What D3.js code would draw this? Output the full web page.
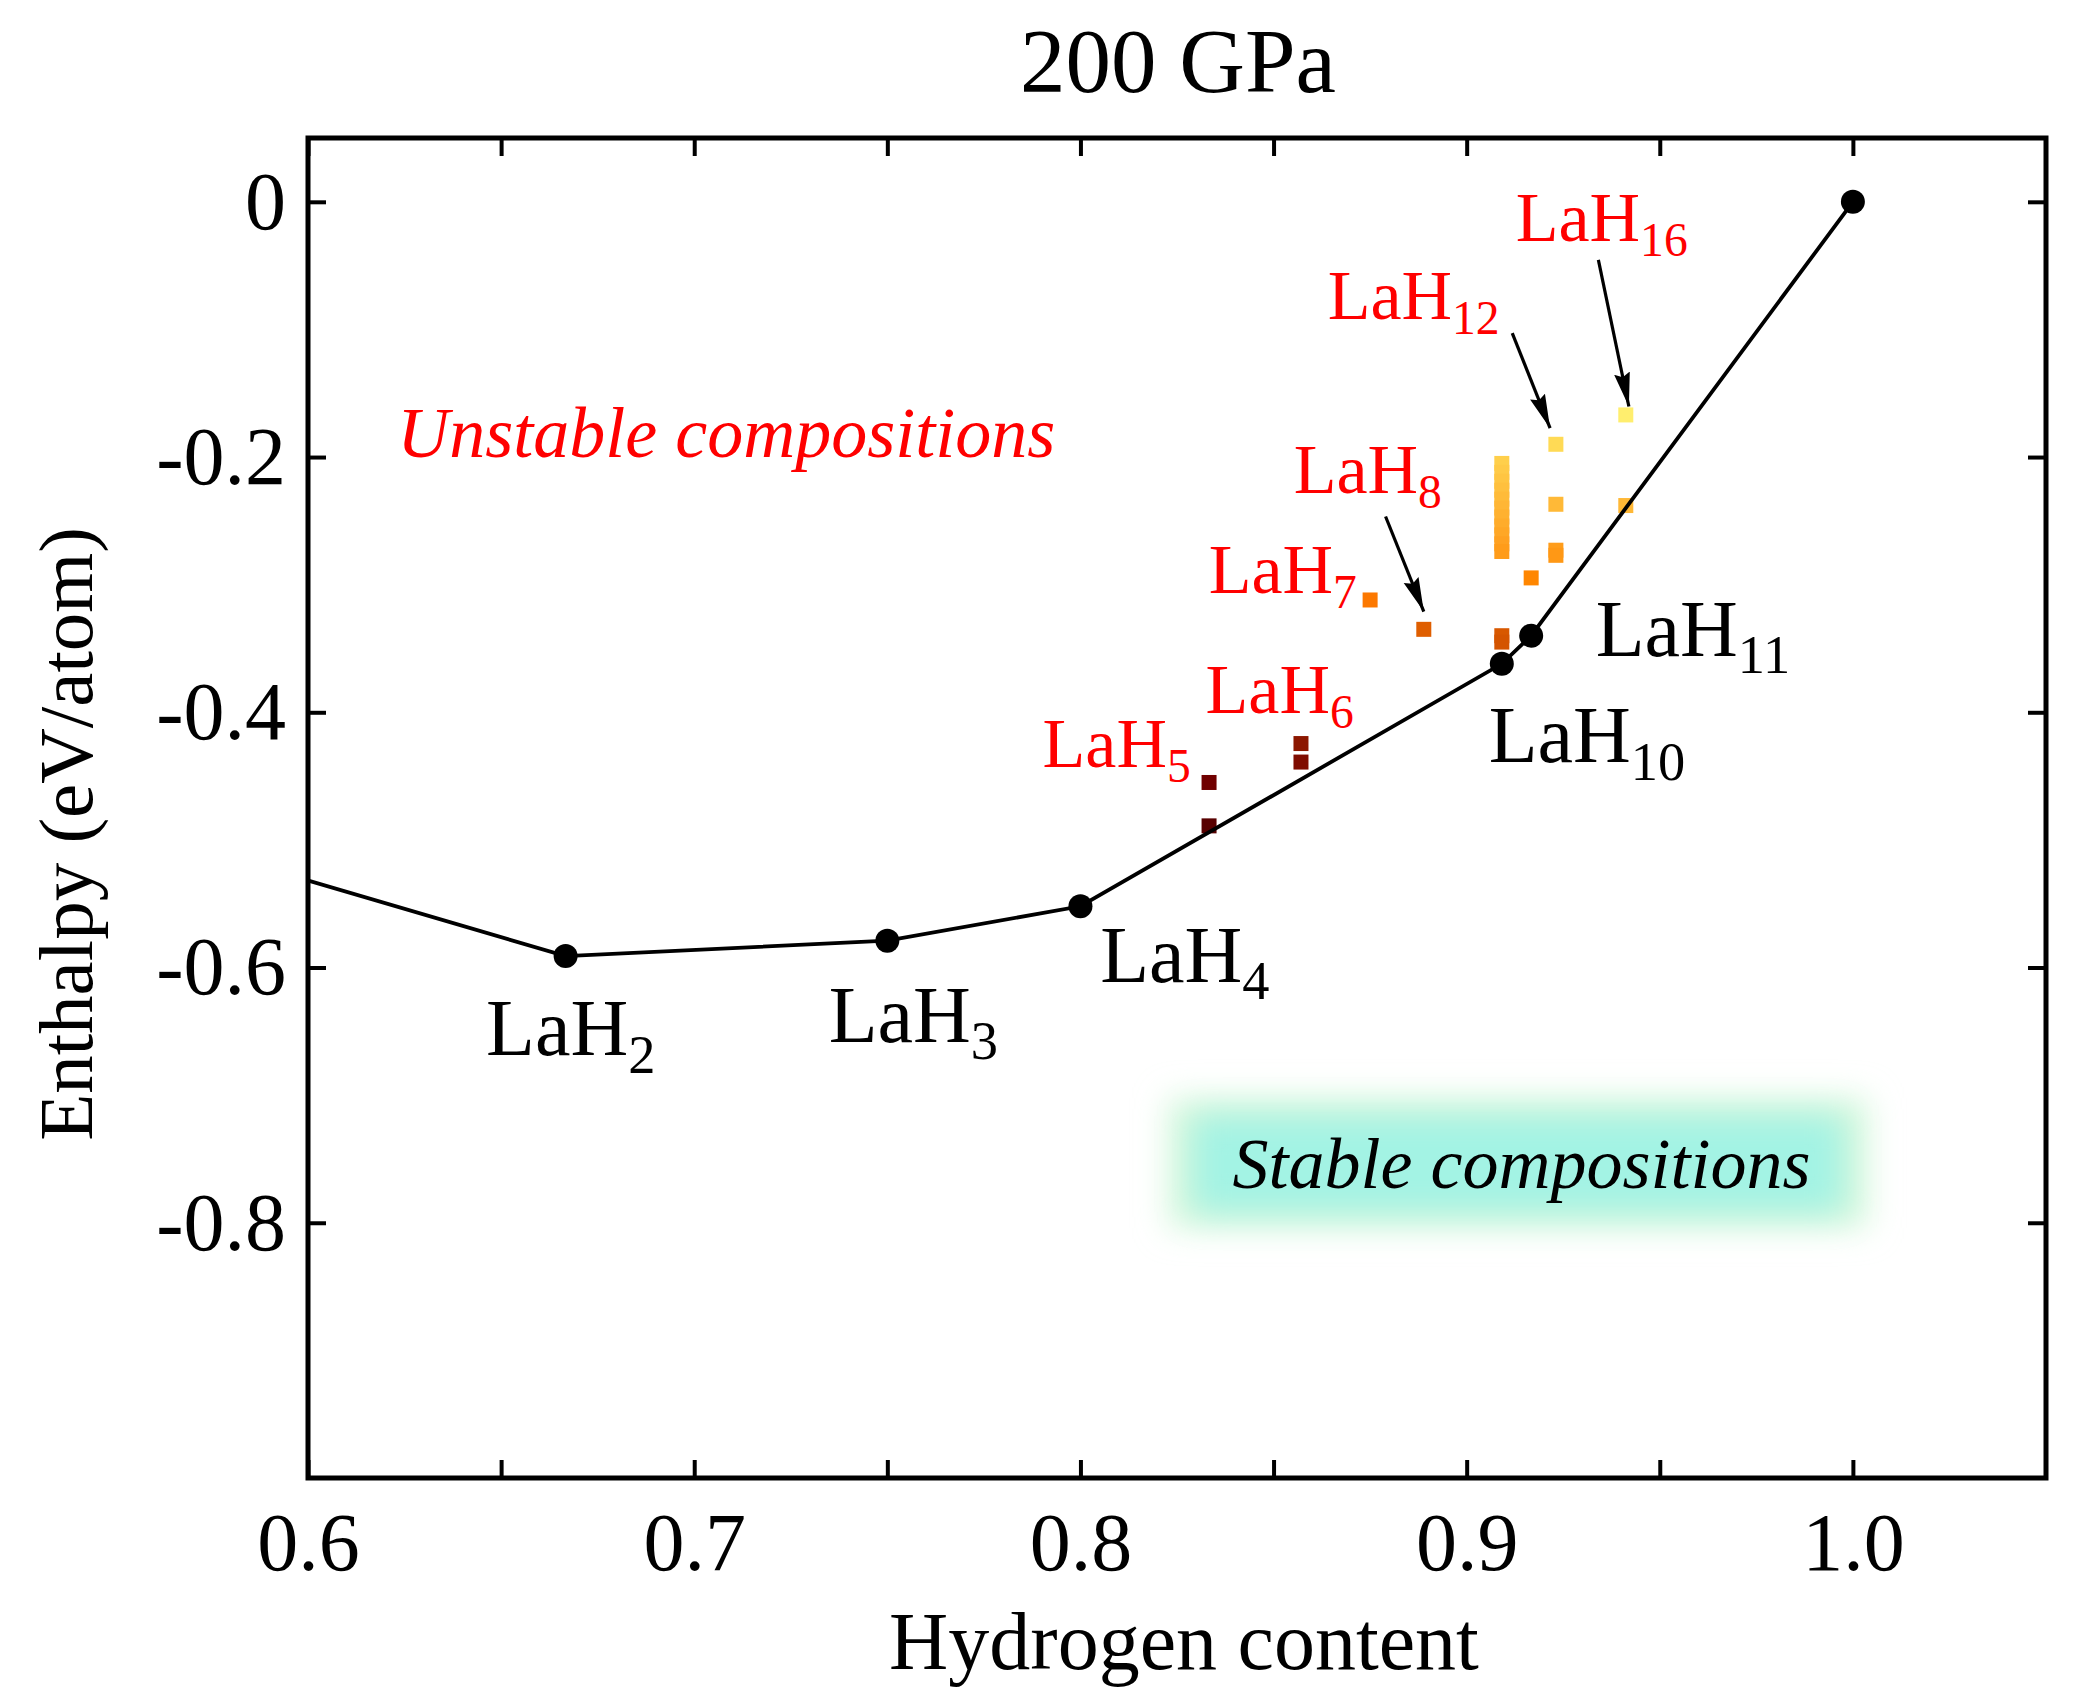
<!DOCTYPE html>
<html>
<head>
<meta charset="utf-8">
<script src="https://cdn.jsdelivr.net/npm/d3@7"></script>
<style>
  body { margin: 0; background: #fff; }
  text { font-family: "Liberation Serif", "Times New Roman", serif; }
</style>
</head>
<body>
<div id="chart"></div>
<script>
const width = 2096, height = 1703;
const margin = {left: 308, right: 50, top: 138, bottom: 225};

// convex hull: stable phases (H fraction, enthalpy eV/atom)
const hullX = [0, 0.6667, 0.75, 0.8, 0.9091, 0.9167, 1.0];
const hullY = [0, -0.591, -0.579, -0.552, -0.362, -0.340, 0];

// unstable structures above the hull
const unstableX = [0.8333, 0.8333, 0.8571, 0.8571, 0.875, 0.8889,
  0.9091, 0.9091, 0.9091, 0.9091, 0.9091, 0.9091, 0.9091, 0.9091, 0.9091, 0.9091, 0.9091,
  0.9091, 0.9091, 0.9167, 0.9231, 0.9231, 0.9231, 0.9231, 0.9412, 0.9412];
const unstableY = [-0.455, -0.489, -0.4245, -0.439, -0.312, -0.335,
  -0.205, -0.212, -0.219, -0.226, -0.233, -0.240, -0.247, -0.254, -0.261, -0.268, -0.274,
  -0.340, -0.345, -0.2947, -0.190, -0.237, -0.273, -0.277, -0.167, -0.238];

// axis ticks
const xTicks = [0.6, 0.65, 0.7, 0.75, 0.8, 0.85, 0.9, 0.95, 1.0];
const xTickLabels = ["0.6", "", "0.7", "", "0.8", "", "0.9", "", "1.0"];
const yTicks = [0, -0.2, -0.4, -0.6, -0.8];
const yTickLabels = ["0", "-0.2", "-0.4", "-0.6", "-0.8"];

// phase labels (anchor in data units)
const stableNames = ["LaH", "LaH", "LaH", "LaH", "LaH"];
const stableSubs = ["2", "3", "4", "10", "11"];
const stableLabelX = [0.6461, 0.7348, 0.8051, 0.9057, 0.9334];
const stableLabelY = [-0.6685, -0.6581, -0.6110, -0.4389, -0.3558];

const unstableNames = ["LaH", "LaH", "LaH", "LaH", "LaH", "LaH"];
const unstableSubs = ["5", "6", "7", "8", "12", "16"];
const unstableLabelX = [0.7902, 0.8324, 0.8332, 0.8552, 0.8640, 0.9127];
const unstableLabelY = [-0.4428, -0.4005, -0.3064, -0.2281, -0.0917, -0.0306];

// arrows pointing at LaH8, LaH12, LaH16
const arrowFrom = [[0.8790, -0.2466], [0.9118, -0.1029], [0.9341, -0.0455]];
const arrowTo = [[0.8889, -0.3211], [0.9216, -0.1774], [0.9420, -0.1604]];

const plotW = width - margin.left - margin.right;
const plotH = height - margin.top - margin.bottom;

const svg = d3.select("#chart").append("svg")
  .attr("width", width)
  .attr("height", height);

const defs = svg.append("defs");
defs.append("clipPath").attr("id", "plot-clip")
  .append("rect").attr("width", plotW).attr("height", plotH);
defs.append("filter").attr("id", "glow")
  .attr("x", "-30%").attr("y", "-100%").attr("width", "160%").attr("height", "300%")
  .append("feGaussianBlur").attr("stdDeviation", 16);
defs.append("marker").attr("id", "arrow")
  .attr("markerUnits", "userSpaceOnUse")
  .attr("markerWidth", 36).attr("markerHeight", 20)
  .attr("refX", 34).attr("refY", 10)
  .attr("orient", "auto")
  .append("path").attr("d", "M0,2 L34,10 L0,18 L4,10 Z").attr("fill", "#000");

const g = svg.append("g")
  .attr("transform", `translate(${margin.left}, ${margin.top})`);

const x = d3.scaleLinear().domain([0.6, 1.05]).range([0, plotW]);
const y = d3.scaleLinear().domain([-1.0, 0.05]).range([plotH, 0]);

// colour of unstable squares follows their enthalpy (hot map)
const heat = d3.scaleLinear()
  .domain([-0.50, -0.455, -0.42, -0.34, -0.31, -0.29, -0.27, -0.235, -0.19, -0.165])
  .range(["#500000", "#700000", "#901a00", "#d85800", "#ff7a00", "#ff8a00", "#ffa020", "#ffba38", "#ffda55", "#fff070"])
  .clamp(true);

// stable region glow box (soft green halo + cyan core)
g.append("rect")
  .attr("x", 860).attr("y", 960)
  .attr("width", 700).attr("height", 130)
  .attr("fill", "#d6f7dc")
  .attr("filter", "url(#glow)");
g.append("rect")
  .attr("x", 885).attr("y", 978)
  .attr("width", 650).attr("height", 96)
  .attr("fill", "#a3f3e4")
  .attr("filter", "url(#glow)");

// axes, ticks pointing inward
const tickFont = 82;
g.append("g")
  .attr("transform", `translate(0, ${plotH})`)
  .call(d3.axisBottom(x).tickValues(xTicks).tickSize(-18).tickPadding(34)
    .tickFormat((d, i) => xTickLabels[i]));
g.append("g")
  .call(d3.axisTop(x).tickValues(xTicks).tickSize(-18).tickFormat(""));
g.append("g")
  .call(d3.axisLeft(y).tickValues(yTicks).tickSize(-18).tickPadding(22)
    .tickFormat((d, i) => yTickLabels[i]));
g.append("g")
  .attr("transform", `translate(${plotW}, 0)`)
  .call(d3.axisRight(y).tickValues(yTicks).tickSize(-18).tickFormat(""));

g.selectAll(".domain").remove();
g.selectAll(".tick line").attr("stroke", "#000").attr("stroke-width", 4);
g.selectAll(".tick text")
  .attr("fill", "#000")
  .style("font-size", tickFont + "px")
  .style("font-family", "'Liberation Serif', 'Times New Roman', serif");

// unstable squares
g.append("g").attr("clip-path", "url(#plot-clip)")
  .selectAll("rect").data(unstableX)
  .enter().append("rect")
  .attr("x", d => x(d) - 7.5)
  .attr("y", (d, i) => y(unstableY[i]) - 7.5)
  .attr("width", 15).attr("height", 15)
  .attr("fill", (d, i) => heat(unstableY[i]));

// convex hull
const hull = hullX.map((d, i) => [d, hullY[i]]);
const hullG = g.append("g").attr("clip-path", "url(#plot-clip)");
hullG.append("path")
  .datum(hull)
  .attr("fill", "none")
  .attr("stroke", "#000")
  .attr("stroke-width", 3.8)
  .attr("d", d3.line().x(d => x(d[0])).y(d => y(d[1])));
hullG.selectAll("circle").data(hull.slice(1))
  .enter().append("circle")
  .attr("cx", d => x(d[0]))
  .attr("cy", d => y(d[1]))
  .attr("r", 12)
  .attr("fill", "#000");

// frame
g.append("rect")
  .attr("width", plotW).attr("height", plotH)
  .attr("fill", "none")
  .attr("stroke", "#000")
  .attr("stroke-width", 5);

// arrows
g.selectAll("line.arrow").data(arrowFrom)
  .enter().append("line")
  .attr("class", "arrow")
  .attr("x1", d => x(d[0])).attr("y1", d => y(d[1]))
  .attr("x2", (d, i) => x(arrowTo[i][0])).attr("y2", (d, i) => y(arrowTo[i][1]))
  .attr("stroke", "#000")
  .attr("stroke-width", 3.2)
  .attr("marker-end", "url(#arrow)");

// chemical formula labels with subscripts
function formulaLabels(names, subs, lx, ly, size, color) {
  const t = g.append("g").selectAll("text").data(names)
    .enter().append("text")
    .attr("x", (d, i) => x(lx[i]))
    .attr("y", (d, i) => y(ly[i]))
    .attr("fill", color)
    .style("font-size", size + "px");
  t.append("tspan").text(d => d);
  t.append("tspan")
    .attr("dy", size * 0.22)
    .style("font-size", (size * 0.68) + "px")
    .text((d, i) => subs[i]);
}
formulaLabels(stableNames, stableSubs, stableLabelX, stableLabelY, 80, "#000");
formulaLabels(unstableNames, unstableSubs, unstableLabelX, unstableLabelY, 70, "#ff0000");

// region captions
g.append("text")
  .attr("x", x(0.6231)).attr("y", y(-0.1998))
  .attr("fill", "#ff0000")
  .style("font-size", "72px")
  .style("font-style", "italic")
  .text("Unstable compositions");
g.append("text")
  .attr("x", x(0.8394)).attr("y", y(-0.7727))
  .attr("fill", "#000")
  .style("font-size", "72px")
  .style("font-style", "italic")
  .text("Stable compositions");

// title
svg.append("text")
  .attr("x", 1178).attr("y", 92)
  .style("text-anchor", "middle")
  .style("font-size", "91px")
  .text("200 GPa");

// x-axis label
svg.append("text")
  .attr("x", margin.left + plotW / 2 + 7).attr("y", 1669)
  .style("text-anchor", "middle")
  .style("font-size", "82px")
  .text("Hydrogen content");

// y-axis label
svg.append("text")
  .attr("transform", `translate(92, 834) rotate(-90)`)
  .style("text-anchor", "middle")
  .style("font-size", "77px")
  .text("Enthalpy (eV/atom)");
</script>
</body>
</html>
